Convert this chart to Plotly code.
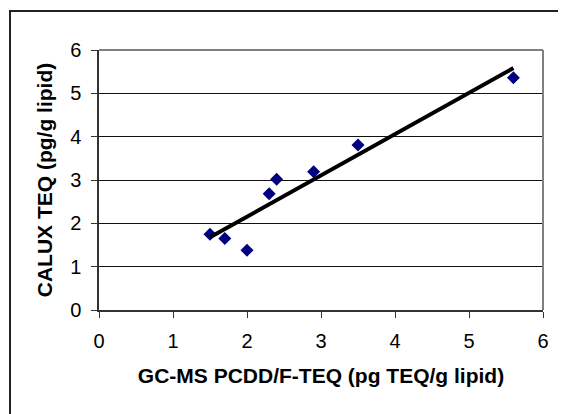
import numpy as np
import plotly.graph_objects as go

# Data
gcms_teq = [1.5, 1.7, 2.0, 2.3, 2.4, 2.9, 3.5, 5.6]
calux_teq = [1.75, 1.65, 1.38, 2.68, 3.02, 3.19, 3.81, 5.36]
tick_values = [0, 1, 2, 3, 4, 5, 6]
x_title = "GC-MS PCDD/F-TEQ (pg TEQ/g lipid)"
y_title = "CALUX TEQ (pg/g lipid)"

# Linear trendline (least squares, as Excel)
slope, intercept = np.polyfit(gcms_teq, calux_teq, 1)
trend_x = [min(gcms_teq), max(gcms_teq)]
trend_y = [slope * v + intercept for v in trend_x]

W, H = 566, 414
OFF = 8  # default body margin of the page
# desired plot area in window pixels: x 99..543, y 50..310
L, T = 99 - OFF, 50 - OFF
R = OFF + W - 543
B = OFF + H - 310

fig = go.Figure()
fig.add_trace(go.Scatter(
    x=gcms_teq, y=calux_teq, mode="markers",
    marker=dict(symbol="diamond", size=10, color="#000080"),
    showlegend=False, cliponaxis=False,
))
fig.add_trace(go.Scatter(
    x=trend_x, y=trend_y, mode="lines",
    line=dict(color="black", width=4),
    showlegend=False,
))

pw, ph = W - L - R, H - T - B
# outer chart border (window x=10, y=11; extends beyond right/bottom of view)
fig.add_shape(type="rect", xref="paper", yref="paper",
              x0=(10 - OFF - L) / pw, x1=(W + 10 - L) / pw,
              y0=-(H + 10 - (T + ph)) / ph, y1=(T + ph - (11 - OFF)) / ph,
              line=dict(color="#222222", width=2), layer="below")
# gray plot-area border on top and right
fig.add_shape(type="line", xref="paper", yref="paper", x0=0, x1=1, y0=1, y1=1,
              line=dict(color="#808080", width=2))
fig.add_shape(type="line", xref="paper", yref="paper", x0=1, x1=1, y0=0, y1=1,
              line=dict(color="#808080", width=2))

font_family = "Liberation Sans, Arial, sans-serif"
fig.update_layout(
    width=W, height=H,
    margin=dict(l=L, r=R, t=T, b=B),
    paper_bgcolor="white", plot_bgcolor="white",
    font=dict(family=font_family, color="black", size=20),
    xaxis=dict(
        range=[0, 6], tickvals=tick_values, ticks="outside", ticklen=6,
        tickcolor="#333333", showline=True, linecolor="#333333", linewidth=1.5,
        showgrid=False, zeroline=False,
        tickfont=dict(size=20), ticklabelstandoff=6,
        title=dict(text="<b>" + x_title + "</b>", font=dict(size=21), standoff=18),
    ),
    yaxis=dict(
        range=[0, 6], tickvals=tick_values, ticks="outside", ticklen=6,
        tickcolor="#333333", showline=True, linecolor="#333333", linewidth=1.5,
        showgrid=True, gridcolor="#111111", gridwidth=1, zeroline=False,
        tickfont=dict(size=20), ticklabelstandoff=6,
        title=dict(text="<b>" + y_title + "</b>", font=dict(size=21), standoff=12),
    ),
)

fig.write_html("out.html")
